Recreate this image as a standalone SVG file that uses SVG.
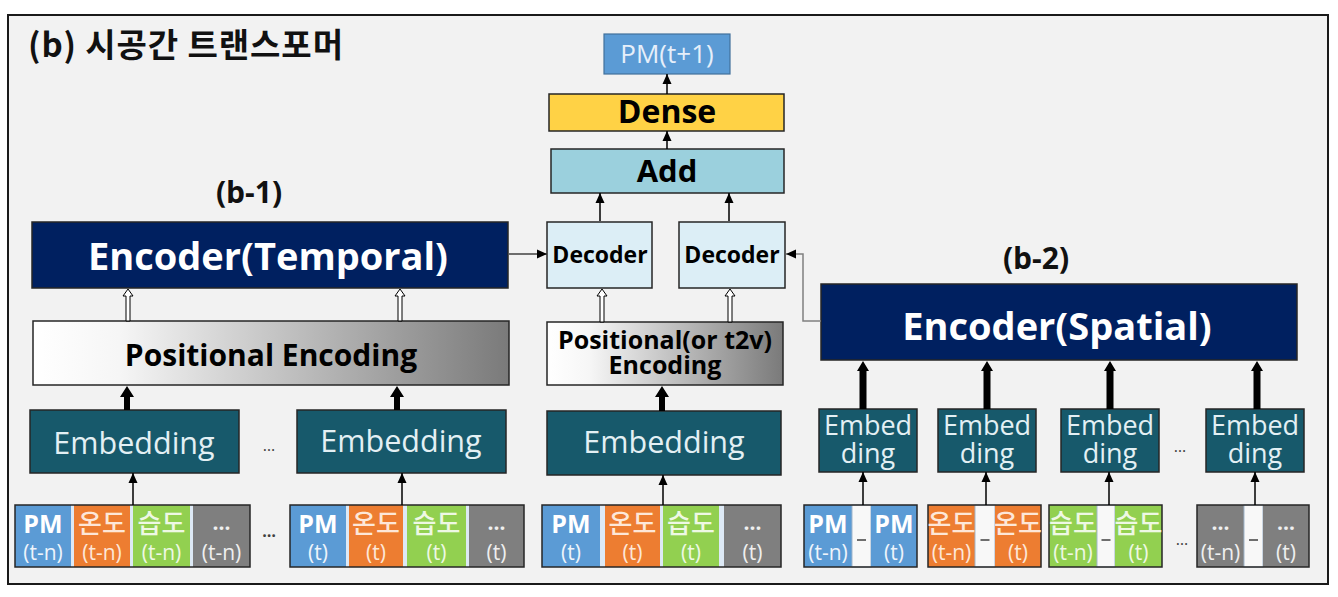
<svg xmlns="http://www.w3.org/2000/svg" width="1338" height="597" viewBox="0 0 1338 597">
<defs>
<linearGradient id="peGrad" x1="0" y1="0" x2="1" y2="0">
<stop offset="0" stop-color="#ffffff"/>
<stop offset="0.18" stop-color="#f6f6f6"/>
<stop offset="1" stop-color="#7a7a7a"/>
</linearGradient>
<marker id="ah" viewBox="0 0 10 10" refX="10" refY="5" markerWidth="10" markerHeight="10" markerUnits="userSpaceOnUse" orient="auto">
<path d="M0,0.5 L10,5 L0,9.5 z" fill="#000"/>
</marker>
</defs>
<style>
.lat{font-family:"Open Sans","Noto Sans CJK KR",sans-serif}
.kr{font-family:"Noto Sans CJK KR","Open Sans",sans-serif}
.b{font-weight:700}
.box{stroke:#262626;stroke-width:1.5}
.navy{fill:#002060}
.teal{fill:#17596b}
.emb{fill:#e3f0f4;font-size:30.5px}
.emb2{fill:#e3f0f4;font-size:27px}
.pm{fill:#5b9bd5}
.tmp{fill:#ed7d31}
.hum{fill:#92d050}
.gry{fill:#7f7f7f}
.gap{fill:#dde9f5}
.wc{fill:#f8f8f8;stroke:#9fb5cc;stroke-width:1}
.outl{fill:none;stroke:#262626;stroke-width:1.5}
.t1{font-size:25px;text-anchor:middle}
.t2{font-size:21px;text-anchor:middle}
.k1{font-size:26px;text-anchor:middle;font-weight:500}
.wt{fill:#ffffff}
.lt{fill:#eef4fb}
.ot{fill:#fde7d8}
.gt{fill:#eef8e4}
.dt{fill:#efefef}
.dash{stroke:#404040;stroke-width:1.5}
.dots{font-size:16px;fill:#404040;text-anchor:middle}
.thin{stroke:#000;stroke-width:1.5;fill:none}
.hollow{fill:#ffffff;stroke:#000;stroke-width:1}
.solid{fill:#000}
</style>

<rect x="0" y="0" width="1338" height="597" fill="#ffffff"/>
<rect x="8" y="15" width="1320" height="569" fill="#f2f2f2" stroke="#1a1a1a" stroke-width="2"/>

<g id="title">
<text x="28" y="57" class="kr b" font-size="33" fill="#111" textLength="315" lengthAdjust="spacing">(b) 시공간 트랜스포머</text>
</g>
<g id="label-b1"><text x="249" y="203" class="lat b" font-size="30" text-anchor="middle" fill="#111">(b-1)</text></g>
<g id="label-b2"><text x="1036" y="269" class="lat b" font-size="30" text-anchor="middle" fill="#111">(b-2)</text></g>

<g id="pm-out">
<rect x="604" y="34" width="126" height="40" fill="#5b9bd5" stroke="#41719c" stroke-width="1.2"/>
<text x="667" y="63" class="lat" font-size="26" text-anchor="middle" fill="#e6effa">PM(t+1)</text>
</g>
<g id="dense">
<rect x="549" y="94" width="235" height="37" fill="#ffd245" class="box"/>
<text x="667" y="123" class="lat b" font-size="32" text-anchor="middle" fill="#000">Dense</text>
</g>
<g id="add">
<rect x="551" y="149" width="233" height="44" fill="#9bd0dd" class="box"/>
<text x="667" y="182" class="lat b" font-size="31" text-anchor="middle" fill="#000">Add</text>
</g>
<g id="decoder1">
<rect x="547" y="222" width="105" height="66" fill="#dceef6" class="box"/>
<text x="600" y="263" class="lat b" font-size="23" text-anchor="middle" fill="#000">Decoder</text>
</g>
<g id="decoder2">
<rect x="679" y="222" width="106" height="66" fill="#dceef6" class="box"/>
<text x="732" y="263" class="lat b" font-size="23" text-anchor="middle" fill="#000">Decoder</text>
</g>

<g id="encoder-temporal">
<rect x="32" y="222" width="476" height="66" class="navy box"/>
<text x="268" y="270" class="lat b" font-size="38" text-anchor="middle" fill="#ffffff">Encoder(Temporal)</text>
</g>
<g id="pe-left">
<rect x="33" y="321" width="476" height="64" fill="url(#peGrad)" class="box"/>
<text x="271" y="366" class="lat b" font-size="30" text-anchor="middle" fill="#000">Positional Encoding</text>
</g>
<g id="emb-l1">
<rect x="30" y="410" width="209" height="63" class="teal box"/>
<text x="134" y="454" class="lat emb" text-anchor="middle">Embedding</text>
</g>
<g id="emb-l2">
<rect x="297" y="410" width="209" height="63" class="teal box"/>
<text x="401" y="452" class="lat emb" text-anchor="middle">Embedding</text>
</g>
<text x="269" y="451" class="lat dots">…</text>

<g id="input-l1">
<rect x="15" y="505" width="235" height="62" class="gap"/>
<rect x="15" y="505" width="56" height="62" class="pm"/>
<rect x="74" y="505" width="56" height="62" class="tmp"/>
<rect x="133" y="505" width="57" height="62" class="hum"/>
<rect x="193" y="505" width="57" height="62" class="gry"/>
<rect x="15" y="505" width="235" height="62" class="outl"/>
<text x="43" y="533" class="lat b t1 wt">PM</text>
<text x="43" y="560" class="lat t2 lt">(t-n)</text>
<text x="102" y="533" class="kr k1 ot">온도</text>
<text x="102" y="560" class="lat t2 ot">(t-n)</text>
<text x="161.5" y="533" class="kr k1 gt">습도</text>
<text x="161.5" y="560" class="lat t2 gt">(t-n)</text>
<text x="221.5" y="530" class="lat b t2 dt">…</text>
<text x="221.5" y="560" class="lat t2 dt">(t-n)</text>
</g>
<text x="269" y="537" class="lat b dots" font-weight="700">…</text>
<g id="input-l2">
<rect x="290" y="505" width="234" height="62" class="gap"/>
<rect x="290" y="505" width="56" height="62" class="pm"/>
<rect x="349" y="505" width="54" height="62" class="tmp"/>
<rect x="407" y="505" width="59" height="62" class="hum"/>
<rect x="469" y="505" width="55" height="62" class="gry"/>
<rect x="290" y="505" width="234" height="62" class="outl"/>
<text x="318" y="533" class="lat b t1 wt">PM</text>
<text x="318" y="560" class="lat t2 lt">(t)</text>
<text x="376" y="533" class="kr k1 ot">온도</text>
<text x="376" y="560" class="lat t2 ot">(t)</text>
<text x="436.5" y="533" class="kr k1 gt">습도</text>
<text x="436.5" y="560" class="lat t2 gt">(t)</text>
<text x="496.5" y="530" class="lat b t2 dt">…</text>
<text x="496.5" y="560" class="lat t2 dt">(t)</text>
</g>

<g id="pe-mid">
<rect x="547" y="322" width="236" height="63" fill="url(#peGrad)" class="box"/>
<text x="665" y="349" class="lat b" font-size="25" text-anchor="middle" fill="#000">Positional(or t2v)</text>
<text x="665" y="374" class="lat b" font-size="25" text-anchor="middle" fill="#000">Encoding</text>
</g>
<g id="emb-mid">
<rect x="547" y="411" width="234" height="64" class="teal box"/>
<text x="664" y="453" class="lat emb" text-anchor="middle">Embedding</text>
</g>
<g id="input-mid">
<rect x="542" y="505" width="239" height="62" class="gap"/>
<rect x="542" y="505" width="58" height="62" class="pm"/>
<rect x="605" y="505" width="55" height="62" class="tmp"/>
<rect x="663" y="505" width="56" height="62" class="hum"/>
<rect x="724" y="505" width="57" height="62" class="gry"/>
<rect x="542" y="505" width="239" height="62" class="outl"/>
<text x="571" y="533" class="lat b t1 wt">PM</text>
<text x="571" y="560" class="lat t2 lt">(t)</text>
<text x="632.5" y="533" class="kr k1 ot">온도</text>
<text x="632.5" y="560" class="lat t2 ot">(t)</text>
<text x="691" y="533" class="kr k1 gt">습도</text>
<text x="691" y="560" class="lat t2 gt">(t)</text>
<text x="752.5" y="530" class="lat b t2 dt">…</text>
<text x="752.5" y="560" class="lat t2 dt">(t)</text>
</g>

<g id="encoder-spatial">
<rect x="821" y="284" width="476" height="76" class="navy box"/>
<text x="1057" y="340" class="lat b" font-size="38" text-anchor="middle" fill="#ffffff">Encoder(Spatial)</text>
</g>
<g id="emb-r1">
<rect x="819" y="409" width="98" height="63" class="teal box"/>
<text class="lat emb2" text-anchor="middle"><tspan x="868" y="435">Embed</tspan><tspan x="868" y="463">ding</tspan></text>
</g>
<g id="emb-r2">
<rect x="938" y="409" width="98" height="63" class="teal box"/>
<text class="lat emb2" text-anchor="middle"><tspan x="987" y="435">Embed</tspan><tspan x="987" y="463">ding</tspan></text>
</g>
<g id="emb-r3">
<rect x="1061" y="409" width="98" height="63" class="teal box"/>
<text class="lat emb2" text-anchor="middle"><tspan x="1110" y="435">Embed</tspan><tspan x="1110" y="463">ding</tspan></text>
</g>
<g id="emb-r4">
<rect x="1206" y="409" width="98" height="63" class="teal box"/>
<text class="lat emb2" text-anchor="middle"><tspan x="1255" y="435">Embed</tspan><tspan x="1255" y="463">ding</tspan></text>
</g>
<text x="1180" y="452" class="lat dots">…</text>

<g id="input-r1">
<rect x="804" y="505" width="48" height="62" class="pm"/>
<rect x="852" y="505" width="19" height="62" class="wc"/>
<rect x="871" y="505" width="46" height="62" class="pm"/>
<rect x="804" y="505" width="113" height="62" class="outl"/>
<line x1="857" y1="540" x2="866" y2="540" class="dash"/>
<text x="828" y="533" class="lat b t1 wt">PM</text>
<text x="828" y="560" class="lat t2 lt">(t-n)</text>
<text x="894" y="533" class="lat b t1 wt">PM</text>
<text x="894" y="560" class="lat t2 lt">(t)</text>
</g>
<g id="input-r2">
<rect x="928" y="505" width="47" height="62" class="tmp"/>
<rect x="975" y="505" width="20" height="62" class="wc"/>
<rect x="995" y="505" width="46" height="62" class="tmp"/>
<rect x="928" y="505" width="113" height="62" class="outl"/>
<line x1="980.5" y1="540" x2="989.5" y2="540" class="dash"/>
<text x="951.5" y="533" class="kr k1 ot">온도</text>
<text x="951.5" y="560" class="lat t2 ot">(t-n)</text>
<text x="1018" y="533" class="kr k1 ot">온도</text>
<text x="1018" y="560" class="lat t2 ot">(t)</text>
</g>
<g id="input-r3">
<rect x="1049" y="505" width="48" height="62" class="hum"/>
<rect x="1097" y="505" width="18" height="62" class="wc"/>
<rect x="1115" y="505" width="47" height="62" class="hum"/>
<rect x="1049" y="505" width="113" height="62" class="outl"/>
<line x1="1101.5" y1="540" x2="1110.5" y2="540" class="dash"/>
<text x="1073" y="533" class="kr k1 gt">습도</text>
<text x="1073" y="560" class="lat t2 gt">(t-n)</text>
<text x="1138.5" y="533" class="kr k1 gt">습도</text>
<text x="1138.5" y="560" class="lat t2 gt">(t)</text>
</g>
<text x="1182" y="545" class="lat dots">…</text>
<g id="input-r4">
<rect x="1197" y="505" width="47" height="62" class="gry"/>
<rect x="1244" y="505" width="19" height="62" class="wc"/>
<rect x="1263" y="505" width="46" height="62" class="gry"/>
<rect x="1197" y="505" width="112" height="62" class="outl"/>
<line x1="1249" y1="540" x2="1258" y2="540" class="dash"/>
<text x="1220.5" y="530" class="lat b t2 dt">…</text>
<text x="1220.5" y="560" class="lat t2 dt">(t-n)</text>
<text x="1286" y="530" class="lat b t2 dt">…</text>
<text x="1286" y="560" class="lat t2 dt">(t)</text>
</g>

<g id="connectors">
<line x1="667" y1="94" x2="667" y2="74" class="thin" marker-end="url(#ah)"/>
<line x1="667" y1="149" x2="667" y2="131" class="thin" marker-end="url(#ah)"/>
<line x1="600" y1="221" x2="600" y2="193" class="thin" marker-end="url(#ah)"/>
<line x1="729" y1="221" x2="729" y2="193" class="thin" marker-end="url(#ah)"/>
<line x1="509" y1="254" x2="547" y2="254" stroke="#404040" stroke-width="1.5" marker-end="url(#ah)"/>
<path d="M821,321 H803 V254 H786" fill="none" stroke="#808080" stroke-width="1.5" marker-end="url(#ah)"/>

<polygon class="hollow" points="128,289 133,296 130,296 130,321 126,321 126,296 123,296"/>
<polygon class="hollow" points="400,289 405,296 402,296 402,321 398,321 398,296 395,296"/>
<polygon class="hollow" points="602,289 607,296 604,296 604,322 600,322 600,296 597,296"/>
<polygon class="hollow" points="730,289 735,296 732,296 732,322 728,322 728,296 725,296"/>

<polygon class="solid" points="127,386 134,397 130,397 130,410 124,410 124,397 120,397"/>
<polygon class="solid" points="397,386 404,397 400,397 400,410 394,410 394,397 390,397"/>
<polygon class="solid" points="662,386 669,397 665,397 665,411 659,411 659,397 655,397"/>

<polygon class="solid" points="863,361 869,371 866.5,371 866.5,409 859.5,409 859.5,371 857,371"/>
<polygon class="solid" points="987,361 993,371 990.5,371 990.5,409 983.5,409 983.5,371 981,371"/>
<polygon class="solid" points="1110,361 1116,371 1113.5,371 1113.5,409 1106.5,409 1106.5,371 1104,371"/>
<polygon class="solid" points="1257,361 1263,371 1260.5,371 1260.5,409 1253.5,409 1253.5,371 1251,371"/>

<line x1="133" y1="505" x2="133" y2="473" class="thin" marker-end="url(#ah)"/>
<line x1="402" y1="505" x2="402" y2="473" class="thin" marker-end="url(#ah)"/>
<line x1="663" y1="505" x2="663" y2="475" class="thin" marker-end="url(#ah)"/>
<line x1="863" y1="505" x2="863" y2="472" class="thin" marker-end="url(#ah)"/>
<line x1="986" y1="505" x2="986" y2="472" class="thin" marker-end="url(#ah)"/>
<line x1="1109" y1="505" x2="1109" y2="472" class="thin" marker-end="url(#ah)"/>
<line x1="1255" y1="505" x2="1255" y2="472" class="thin" marker-end="url(#ah)"/>
</g>
</svg>
